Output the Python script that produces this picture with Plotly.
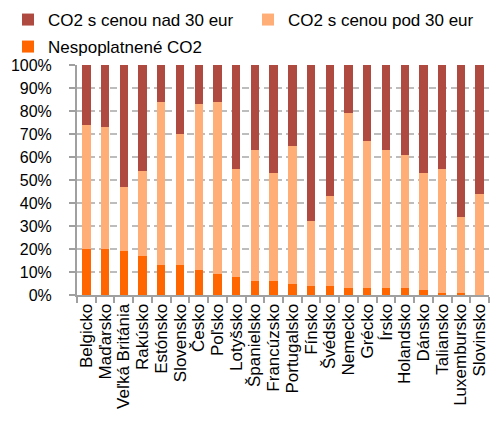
import plotly.graph_objects as go

categories = ["Belgicko", "Maďarsko", "Veľká Británia", "Rakúsko", "Estónsko", "Slovensko",
              "Česko", "Poľsko", "Lotyšsko", "Španielsko", "Francúzsko", "Portugalsko",
              "Fínsko", "Švédsko", "Nemecko", "Grécko", "Írsko", "Holandsko", "Dánsko",
              "Taliansko", "Luxembursko", "Slovinsko"]
# percent shares
unpriced = [20, 20, 19, 17, 13, 13, 11, 9, 8, 6, 6, 5, 4, 4, 3, 3, 3, 3, 2, 1, 1, 0]
below30 = [54, 53, 28, 37, 71, 57, 72, 75, 47, 57, 47, 60, 28, 39, 76, 64, 60, 58, 51, 54, 33, 44]
above30 = [26, 27, 53, 46, 16, 30, 17, 16, 45, 37, 47, 35, 68, 57, 21, 33, 37, 39, 47, 45, 66, 56]
ytick_vals = [0, 10, 20, 30, 40, 50, 60, 70, 80, 90, 100]
ytick_text = [f"{v}%" for v in ytick_vals]

FONT = "Liberation Sans"
W, H = 499, 421
OFF = 8  # page body margin offset
fig = go.Figure()
fig.add_bar(x=categories, y=unpriced, name="Nespoplatnené CO2", marker_color="#FF6600",
            marker_line_width=0, legend="legend3")
fig.add_bar(x=categories, y=below30, name="CO2 s cenou pod 30 eur", marker_color="#FFAE78",
            marker_line_width=0, legend="legend2")
fig.add_bar(x=categories, y=above30, name="CO2 s cenou nad 30 eur", marker_color="#AE4A40",
            marker_line_width=0, legend="legend")

def cx(px):
    return max(px - OFF, 0) / W
def cy(py):
    return 1 - (py - OFF) / H

leg_common = dict(orientation="h", xanchor="left", yanchor="middle",
                  xref="container", yref="container",
                  font=dict(family=FONT, size=17), bgcolor="rgba(0,0,0,0)",
                  borderwidth=0, itemwidth=30)

fig.update_layout(
    width=W, height=H,
    barmode="stack", bargap=0.55,
    plot_bgcolor="white", paper_bgcolor="white",
    margin=dict(l=77 - OFF, r=10 + OFF, t=65 - OFF, b=126 + OFF),
    font=dict(family=FONT, size=16, color="#000000"),
    legend=dict(x=cx(8), y=cy(20), **leg_common),
    legend2=dict(x=cx(248), y=cy(20), **leg_common),
    legend3=dict(x=cx(8), y=cy(47), **leg_common),
    showlegend=True,
)
fig.update_xaxes(showline=True, linecolor="#A0A0A0", linewidth=2, ticks="outside",
                 tickson="boundaries", ticklen=6, tickcolor="#A0A0A0", tickwidth=2,
                 tickmode="array", tickvals=categories, automargin=False,
                 tickangle=-90, tickfont=dict(family=FONT, size=17), showgrid=False)
fig.update_yaxes(range=[0, 100], tickmode="array", tickvals=ytick_vals, ticktext=ytick_text,
                 showline=True, linecolor="#A0A0A0", linewidth=2, ticks="outside",
                 ticklen=6, tickcolor="#A0A0A0", tickwidth=2, automargin=False,
                 ticklabelstandoff=14,
                 showgrid=True, gridcolor="#BDBDBD", griddash="7px,4px", gridwidth=2,
                 tickfont=dict(family=FONT, size=16), zeroline=False)

fig.write_html("out.html")
